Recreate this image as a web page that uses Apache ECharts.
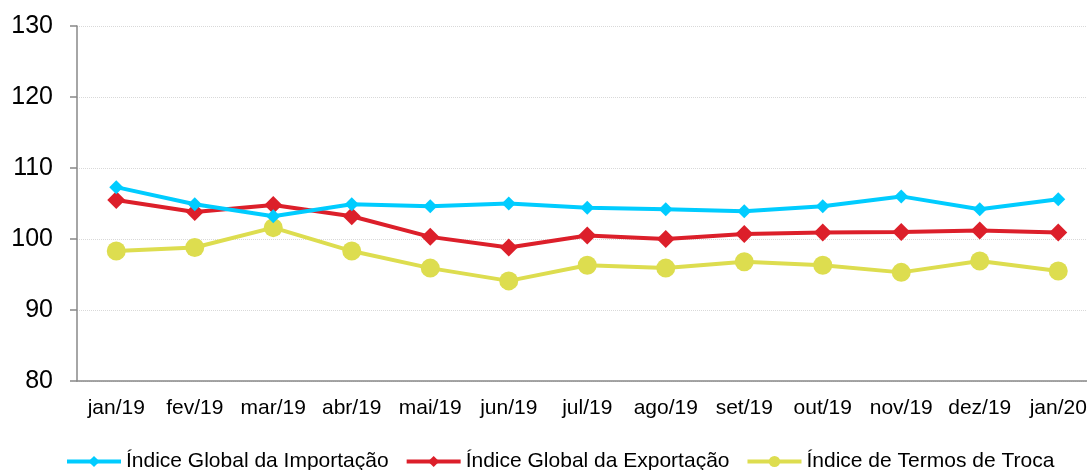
<!DOCTYPE html>
<html style="height: 100%">
<head>
<meta charset="utf-8">
<script src="https://cdn.jsdelivr.net/npm/echarts@6/dist/echarts.min.js"></script>
</head>
<body style="height: 100%; margin: 0">
<div id="container" style="width: 1087px; height: 470px"></div>
<script type="text/javascript">
var categories = ['jan/19', 'fev/19', 'mar/19', 'abr/19', 'mai/19', 'jun/19', 'jul/19', 'ago/19', 'set/19', 'out/19', 'nov/19', 'dez/19', 'jan/20'];
var importacao = [107.3, 104.9, 103.2, 104.9, 104.6, 105.0, 104.4, 104.2, 103.9, 104.6, 106.0, 104.2, 105.6];
var exportacao = [105.5, 103.8, 104.8, 103.2, 100.3, 98.8, 100.5, 100.0, 100.7, 100.9, 101.0, 101.2, 100.9];
var termos = [98.3, 98.8, 101.6, 98.3, 95.9, 94.1, 96.3, 95.9, 96.8, 96.3, 95.3, 96.9, 95.5];
var seriesNames = ['Índice Global da Importação', 'Índice Global da Exportação', 'Índice de Termos de Troca'];

var dom = document.getElementById('container');
var myChart = echarts.init(dom);
var font = 'Liberation Sans, Arial, sans-serif';

var option = {
	backgroundColor: '#ffffff',
	animation: false,
	textStyle: { fontFamily: font },
	// plot runs past the right edge, so the last label is cut like the original
	grid: { left: 77, width: 1020.5, top: 26, bottom: 89, outerBoundsMode: 'none', containLabel: false },
	legend: {
		top: 446,
		left: 60,
		itemWidth: 54,
		itemHeight: 14,
		itemGap: 16,
		lineStyle: { width: 4 },
		textStyle: { fontSize: 21, color: '#000', fontFamily: font },
		data: seriesNames
	},
	xAxis: {
		type: 'category',
		data: categories,
		axisLine: { lineStyle: { color: '#888', width: 1.5 } },
		axisTick: { length: 7, lineStyle: { color: '#888', width: 1.5 } },
		axisLabel: { fontSize: 21, color: '#000', margin: 17, interval: 0 }
	},
	yAxis: {
		type: 'value',
		min: 80,
		max: 130,
		interval: 10,
		axisLine: { show: true, lineStyle: { color: '#888', width: 1.5 } },
		axisTick: { show: true, length: 7, lineStyle: { color: '#888', width: 1.5 } },
		axisLabel: { fontSize: 25, color: '#000', margin: 24 },
		splitLine: { lineStyle: { color: '#d9d9d9', type: 'dotted', width: 1 } }
	},
	series: [{
		name: seriesNames[0],
		type: 'line',
		data: importacao,
		symbol: 'diamond',
		symbolSize: 14,
		color: '#00CCFF',
		lineStyle: { width: 4 },
		z: 3
	}, {
		name: seriesNames[1],
		type: 'line',
		data: exportacao,
		symbol: 'diamond',
		symbolSize: 18,
		color: '#DC1F2A',
		lineStyle: { width: 4 },
		z: 2
	}, {
		name: seriesNames[2],
		type: 'line',
		data: termos,
		symbol: 'circle',
		symbolSize: 19,
		color: '#DDDD4F',
		lineStyle: { width: 4 },
		z: 1
	}]
};
myChart.setOption(option, true);
</script>
</body>
</html>
